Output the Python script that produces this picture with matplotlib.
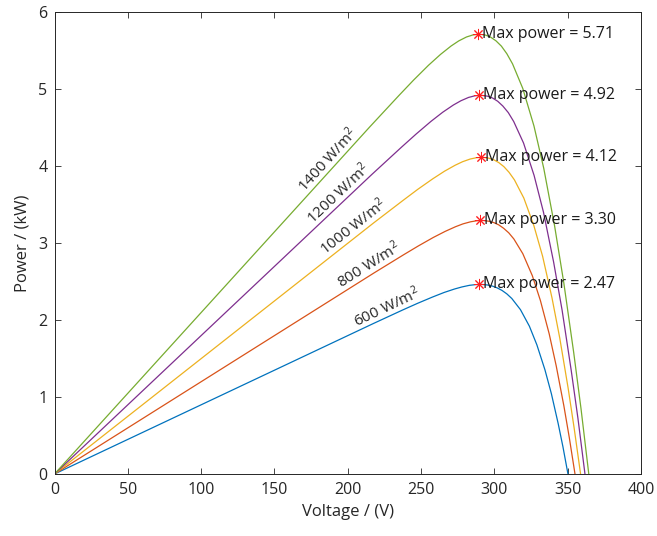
import numpy as np
import matplotlib.pyplot as plt

plt.rcParams['font.family'] = ['Open Sans', 'DejaVu Sans']
plt.rcParams['mathtext.fontset'] = 'custom'
plt.rcParams['mathtext.rm'] = 'Open Sans'
plt.rcParams['mathtext.it'] = 'Open Sans:italic'

# irradiance levels, W/m^2
irradiance = [600, 800, 1000, 1200, 1400]

# P-V curves: voltage (V) and power (kW)
v_600 = [0, 217.6, 237.6, 247.6, 257.7, 265.7, 272.8, 277.9, 283.0, 287.2, 291.3, 295.5, 298.7,
         301.9, 305.2, 308.5, 311.9, 317.8, 323.9, 329.0, 334.5, 338.9, 343.5, 346.8, 350.2]
p_600 = [0, 1.955, 2.131, 2.216, 2.297, 2.357, 2.402, 2.429, 2.450, 2.459, 2.462, 2.454, 2.440,
         2.417, 2.384, 2.339, 2.279, 2.134, 1.919, 1.677, 1.353, 1.042, 0.657, 0.351, 0]

v_800 = [0, 218.1, 238.2, 248.2, 258.3, 266.4, 273.5, 278.6, 283.8, 287.9, 292.2, 296.4, 299.7,
         303.0, 306.3, 309.8, 313.3, 319.4, 325.9, 331.4, 337.4, 342.2, 347.4, 351.1, 355.0]
p_800 = [0, 2.613, 2.848, 2.962, 3.071, 3.150, 3.211, 3.248, 3.275, 3.288, 3.292, 3.282, 3.264,
         3.235, 3.191, 3.132, 3.052, 2.861, 2.575, 2.253, 1.820, 1.403, 0.886, 0.474, 0]

v_1000 = [0, 217.7, 237.8, 247.8, 257.9, 266.0, 273.2, 278.3, 283.5, 287.7, 292.0, 296.3, 299.7,
          303.0, 306.5, 310.0, 313.7, 320.1, 326.9, 332.9, 339.3, 344.6, 350.3, 354.4, 358.8]
p_1000 = [0, 3.261, 3.554, 3.697, 3.832, 3.932, 4.009, 4.055, 4.090, 4.107, 4.112, 4.101, 4.079,
          4.044, 3.991, 3.918, 3.819, 3.583, 3.228, 2.828, 2.288, 1.766, 1.117, 0.599, 0]

v_1200 = [0, 216.5, 236.6, 246.6, 256.7, 264.8, 272.0, 277.2, 282.4, 286.7, 291.0, 295.4, 298.8,
          302.3, 305.8, 309.5, 313.2, 319.9, 327.1, 333.5, 340.4, 346.2, 352.4, 357.0, 361.8]
p_1200 = [0, 3.891, 4.243, 4.414, 4.578, 4.698, 4.791, 4.847, 4.890, 4.911, 4.918, 4.906, 4.882,
          4.840, 4.778, 4.693, 4.577, 4.298, 3.877, 3.400, 2.754, 2.128, 1.348, 0.724, 0]

v_1400 = [0, 214.9, 235.0, 245.0, 255.1, 263.3, 270.5, 275.7, 281.0, 285.3, 289.7, 294.1, 297.6,
          301.1, 304.8, 308.5, 312.4, 319.4, 327.0, 333.7, 341.1, 347.3, 354.1, 359.1, 364.4]
p_1400 = [0, 4.505, 4.917, 5.117, 5.308, 5.449, 5.558, 5.624, 5.675, 5.701, 5.711, 5.699, 5.671,
          5.625, 5.556, 5.458, 5.326, 5.006, 4.520, 3.969, 3.220, 2.491, 1.580, 0.849, 0]

# maximum power points
max_v = [289.6, 290.1, 290.8, 289.6, 288.9]
max_p = [2.47, 3.30, 4.12, 4.92, 5.71]

volts = [v_600, v_800, v_1000, v_1200, v_1400]
powers = [p_600, p_800, p_1000, p_1200, p_1400]
colors = ['#0072BD', '#D95319', '#EDB120', '#7E2F8E', '#77AC30']

# where the irradiance labels sit along each curve (V)
label_at = [229, 218, 208, 198, 191]

fig = plt.figure(figsize=(6.57, 5.36), dpi=100)
ax = fig.add_axes([0.083, 0.1157, 0.8926, 0.862])

for v, p, c in zip(volts, powers, colors):
    ax.plot(v, p, color=c, lw=0.9)

for v, p, g, x in zip(volts, powers, irradiance, label_at):
    y = np.interp(x, v, p)
    ang = np.degrees(np.arctan((p[1] - p[0]) / (v[1] - v[0])))
    ax.text(x, y, '%d W/m$^2$' % g, rotation=ang, rotation_mode='anchor',
            transform_rotates_text=True, ha='center', va='bottom',
            fontsize=11, color='#262626')

for x, y in zip(max_v, max_p):
    ax.plot(x, y, marker=(8, 2, 0), color='#FF2020', ms=8, mew=0.7)
    ax.annotate('Max power = %.2f' % y, (x, y), xytext=(3, 0),
                textcoords='offset points', ha='left', va='center',
                fontsize=11.5, color='#1a1a1a')

ax.set_xlim(0, 400)
ax.set_ylim(0, 6)
ax.set_xticks(np.arange(0, 401, 50))
ax.set_yticks(np.arange(0, 7, 1))
ax.tick_params(direction='in', top=True, right=True, length=4, width=0.6,
               color='#262626', labelcolor='#262626', labelsize=11.5)
ax.tick_params(axis='x', pad=6)
ax.tick_params(axis='y', pad=5)
for s in ax.spines.values():
    s.set_linewidth(0.7)
    s.set_color('#262626')

ax.set_xlabel('Voltage / (V)', fontsize=12, color='#262626', labelpad=4)
ax.set_ylabel('Power / (kW)', fontsize=12, color='#262626', labelpad=6)

fig.savefig('out.png', dpi=100)
